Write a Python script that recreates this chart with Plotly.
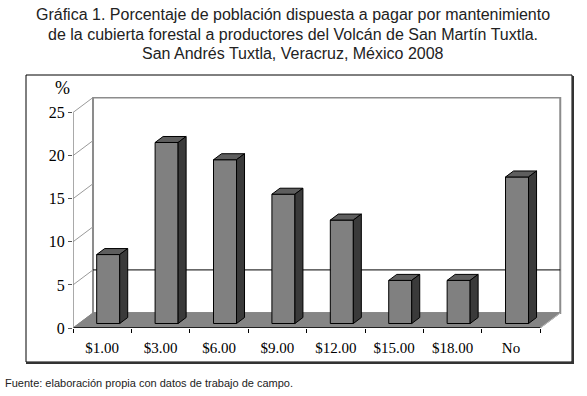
import plotly.graph_objects as go

categories = ["$1.00", "$3.00", "$6.00", "$9.00", "$12.00", "$15.00", "$18.00", "No"]
values = [8, 21, 19, 15, 12, 5, 5, 17]
y_ticks = [0, 5, 10, 15, 20, 25]
grid_value = 5

# 3D look parameters (in data units)
W, H = 587, 396
ML, MR, MT, MB = 73, 25, 97, 68
DX = 0.3426          # depth offset along x (category units)
DY = 1.74            # depth offset along y (value units)
BAR_W = 0.394
D0, D1 = 0.3, 0.7    # bar front/back depth fractions
X0, X1 = -0.5, len(categories) - 0.5
XR = [X0, X1 + DX + 0.03]
YR = [0, 26.8]

FRONT = "#808080"
TOP = "#5e5e5e"
SIDE = "#3a3a3a"
FLOOR = "#858585"
WALL_LINE = "#8c8c8c"

fig = go.Figure()

# front faces of bars
xs = [i + D0 * DX for i in range(len(categories))]
fig.add_trace(go.Bar(x=xs, y=values, base=[D0 * DY] * len(values), width=BAR_W,
                     marker=dict(color=FRONT, line=dict(color="black", width=1)),
                     hoverinfo="skip"))

dd = D1 - D0
tx, ty, sx, sy = [], [], [], []
for xc, v in zip(xs, values):
    xl, xr = xc - BAR_W / 2, xc + BAR_W / 2
    b = D0 * DY
    t = b + v
    tx += [xl, xr, xr + dd * DX, xl + dd * DX, xl, None]
    ty += [t, t, t + dd * DY, t + dd * DY, t, None]
    sx += [xr, xr + dd * DX, xr + dd * DX, xr, xr, None]
    sy += [b, b + dd * DY, t + dd * DY, t, b, None]
fig.add_trace(go.Scatter(x=tx, y=ty, fill="toself", fillcolor=TOP, mode="lines",
                         line=dict(color="black", width=1), hoverinfo="skip"))
fig.add_trace(go.Scatter(x=sx, y=sy, fill="toself", fillcolor=SIDE, mode="lines",
                         line=dict(color="black", width=1), hoverinfo="skip"))

shapes = []
# back wall
shapes.append(dict(type="rect", xref="x", yref="y", x0=X0 + DX, x1=X1 + DX, y0=DY, y1=y_ticks[-1] + DY,
                   line=dict(color=WALL_LINE, width=2), fillcolor="white", layer="below"))
# gridline on back wall
shapes.append(dict(type="line", xref="x", yref="y", x0=X0 + DX, x1=X1 + DX, y0=grid_value + DY,
                   y1=grid_value + DY, line=dict(color="black", width=1), layer="below"))
# diagonals from front axis ticks to back wall
for k in y_ticks:
    shapes.append(dict(type="line", xref="x", yref="y", x0=X0, y0=k, x1=X0 + DX, y1=k + DY,
                       line=dict(color="#9a9a9a", width=1), layer="below"))
# floor
shapes.append(dict(type="path", xref="x", yref="y",
                   path=f"M {X0},0 L {X1},0 L {X1+DX},{DY} L {X0+DX},{DY} Z",
                   fillcolor=FLOOR, line=dict(color=FLOOR, width=1), layer="below"))
# floor right edge
shapes.append(dict(type="line", xref="x", yref="y", x0=X1, y0=0, x1=X1 + DX, y1=DY,
                   line=dict(color="#bbbbbb", width=1), layer="below"))
# front axis lines
shapes.append(dict(type="line", xref="x", yref="y", x0=X0, y0=0, x1=X1, y1=0,
                   line=dict(color="black", width=1.5)))
shapes.append(dict(type="line", xref="x", yref="y", x0=X0, y0=0, x1=X0, y1=y_ticks[-1],
                   line=dict(color="#8c8c8c", width=1.5)))

# outer frame (pixel -> paper)
PW, PH = W - ML - MR, H - MT - MB
def px(x): return (x - ML) / PW
def py(y): return (H - MB - y) / PH
shapes.append(dict(type="rect", xref="paper", yref="paper", x0=px(26), x1=px(572), y0=py(362), y1=py(75),
                   line=dict(color="black", width=1)))
shapes.append(dict(type="line", xref="paper", yref="paper", x0=px(573), x1=px(573), y0=py(363), y1=py(76),
                   line=dict(color="#333333", width=2)))
shapes.append(dict(type="line", xref="paper", yref="paper", x0=px(26), x1=px(574), y0=py(363), y1=py(363),
                   line=dict(color="#333333", width=2)))

title_lines = ["Gráfica 1. Porcentaje de población dispuesta a pagar por mantenimiento",
               "de la cubierta forestal a productores del Volcán de San Martín Tuxtla.",
               "San Andrés Tuxtla, Veracruz, México 2008"]
annotations = []
for i, line in enumerate(title_lines):
    annotations.append(dict(text=line, xref="paper", yref="paper", x=px(293), y=py(14 + 20 * i),
                            xanchor="center", yanchor="middle", showarrow=False,
                            font=dict(family="Liberation Sans, Arial", size=16, color="#222")))
annotations.append(dict(text="%", xref="paper", yref="paper", x=px(62), y=py(88), xanchor="center",
                        yanchor="middle", showarrow=False,
                        font=dict(family="Liberation Serif, Times New Roman", size=18, color="black")))
annotations.append(dict(text="Fuente: elaboración propia con datos de trabajo de campo.", xref="paper",
                        yref="paper", x=px(3), y=py(383), xanchor="left", yanchor="middle", showarrow=False,
                        font=dict(family="Liberation Sans, Arial", size=11, color="#222")))

fig.update_layout(
    width=W, height=H, margin=dict(l=ML, r=MR, t=MT, b=MB),
    paper_bgcolor="white", plot_bgcolor="rgba(0,0,0,0)", showlegend=False,
    shapes=shapes, annotations=annotations,
    xaxis=dict(range=XR, tickvals=list(range(len(categories))), ticktext=categories,
               showgrid=False, zeroline=False, showline=False, ticks="outside", ticklen=6,
               tickcolor="rgba(0,0,0,0)",
               tickfont=dict(family="Liberation Serif, Times New Roman", size=15, color="black"),
               minor=dict(tickvals=[i - 0.5 for i in range(len(categories) + 1)], ticks="outside",
                          ticklen=4, tickcolor="black", showgrid=False)),
    yaxis=dict(range=YR, tickvals=y_ticks, showgrid=False, zeroline=False, showline=False,
               ticks="outside", ticklen=4, tickcolor="#555",
               tickfont=dict(family="Liberation Serif, Times New Roman", size=16, color="black")),
)

fig.write_html("out.html", config={"displayModeBar": False},
               post_script="document.body.style.margin='0';document.body.style.overflow='hidden';")
